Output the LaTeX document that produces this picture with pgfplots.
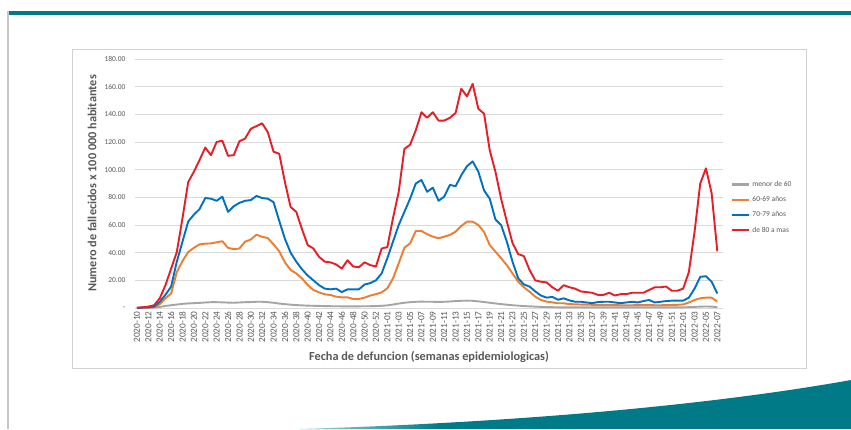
\documentclass[border=0pt]{standalone}
\usepackage{pgfplots}
\pgfplotsset{compat=1.18}
\usepackage{pgfplotstable}
\usepackage{fontspec}
\setmainfont{Carlito}
\usetikzlibrary{fadings}
\definecolor{cred}{RGB}{230,30,38}
\definecolor{cblue}{RGB}{0,112,192}
\definecolor{corange}{RGB}{237,125,49}
\definecolor{cgrey}{RGB}{165,165,165}
\definecolor{cteal}{RGB}{0,122,135}
\definecolor{ctxt}{RGB}{89,89,89}
\definecolor{cgrid}{RGB}{217,217,217}

\pgfplotstableread{
i g o b r
0 0 0 0 0.3
1 0 0.2 0.3 0.5
2 0.1 0.4 0.5 1
3 0.3 0.8 1 2
4 0.8 2.7 4.5 7
5 1.5 7 9.5 16.5
6 2 10.5 15.5 28.5
7 2.5 26 33.5 40.5
8 3 34 48 65
9 3.3 40.5 62.5 91
10 3.5 43.5 67.5 98.5
11 3.7 46 71.5 107
12 4 46.5 79.5 116
13 4.2 46.7 79 110.5
14 4.2 47.5 77.5 120
15 4.1 48.3 80.5 121
16 3.9 43.5 69.5 110
17 3.8 42.5 73.5 110.5
18 4 43 76 120.5
19 4.2 48 77.5 122.5
20 4.3 49.5 78 129.5
21 4.5 53 81 131.5
22 4.5 51.5 79.5 133.5
23 4.2 50.5 79 127
24 3.8 46 76.5 113
25 3.2 41 63 111.5
26 2.8 33 50 91
27 2.4 27.5 40 73
28 2.1 25 33.5 69.5
29 1.9 21.4 28 57
30 1.7 16.6 23.5 45.5
31 1.6 13 20 43
32 1.5 11.3 16.5 37
33 1.4 9.9 14 33.5
34 1.3 9.4 13.5 33
35 1.3 8.2 14 31.5
36 1.2 7.7 11.5 28.5
37 1.2 7.7 13.5 34.5
38 1.2 6.5 13.5 30
39 1.2 6.5 13.5 29.5
40 1.3 7.5 17 33
41 1.3 9 18 31
42 1.4 10 20 30
43 1.6 11.3 25 43
44 1.9 14.2 36 44
45 2.5 21.4 48 65
46 3.2 32.3 60 84
47 3.8 43.6 69.5 115
48 4.2 46.7 79 118
49 4.5 55.7 90 128.5
50 4.6 55.7 92.5 141.5
51 4.5 53.3 84 137.5
52 4.5 51.6 87 141.5
53 4.4 50.4 77.5 135.5
54 4.5 51.6 80.5 135.5
55 4.7 52.8 89 137.5
56 5 55.2 88 141
57 5.2 59.3 96 158.5
58 5.3 62.4 102.5 153
59 5.2 62.4 106 162
60 4.8 60 98.5 144
61 4.3 55 85 140.5
62 3.8 45.5 79 114
63 3.3 40.7 64 98.5
64 2.8 36 60 79
65 2.4 31 48 62.5
66 2 25 33.5 47
67 1.7 19 21.5 39
68 1.4 15 17 37.5
69 1.2 11.8 15.5 27.5
70 1 8.2 12 20
71 0.8 5.8 9 19
72 0.7 4.6 7.5 18.5
73 0.6 4.1 8 15
74 0.5 3.4 6 12.5
75 0.5 3.4 7 16.5
76 0.5 2.8 5.5 15
77 0.5 2.7 4.5 14
78 0.5 2.5 4.5 12
79 0.4 2.4 4 11.5
80 0.4 2.3 3.5 11
81 0.4 2.2 4.3 9.5
82 0.4 2.2 4.5 9.5
83 0.4 2.2 4.5 11
84 0.4 2.1 4 9
85 0.4 2 3.5 10
86 0.4 2 4 10
87 0.4 2 4.5 11
88 0.4 2.1 4 11
89 0.4 2.2 5 11
90 0.4 2.2 5.8 13
91 0.4 2 4 15
92 0.4 2 4.5 15
93 0.4 2.1 5 15.5
94 0.4 2.2 5.3 12.5
95 0.4 2.3 5.3 12.5
96 0.5 2.6 5.3 14
97 0.6 4 7.5 26
98 0.8 5.8 14 55
99 1 7 22.5 90
100 1.1 7.5 23 101
101 1 7.5 19 83
102 0.6 4.6 10.5 41
}\data

\begin{document}
\begin{tikzpicture}[x=1pt,y=1pt]
\path[use as bounding box, fill=white] (0,0) rectangle (851,429);
% slide decorations
\fill[cteal] (8,414) rectangle (851,418);
\fill[black!22] (7,0) rectangle (9,418);
\fill[cteal] (300,0) .. controls (500,6) and (700,22) .. (851,49) -- (851,0) -- cycle;
\fill[white, path fading=east] (230,0) rectangle (440,30);
% chart box
\draw[black!18, line width=0.8pt] (72,61) rectangle (806,380);
\begin{axis}[
  at={(135pt,121pt)}, anchor=south west,
  scale only axis, width=588pt, height=249pt,
  xmin=-0.35, xmax=103, ymin=0, ymax=180,
  axis line style={draw=none},
  major tick length=0pt,
  ymajorgrids, grid style={cgrid, line width=0.7pt},
  ytick={0,20,...,180},
  yticklabels={{-},{20.00},{40.00},{60.00},{80.00},{100.00},{120.00},{140.00},{160.00},{180.00}},
  yticklabel style={font=\fontsize{7.5}{8}\selectfont, text=ctxt, xshift=-6pt},
  xtick={0,2,...,102},
  xticklabels={2020-10,2020-12,2020-14,2020-16,2020-18,2020-20,2020-22,2020-24,2020-26,2020-28,2020-30,2020-32,2020-34,2020-36,2020-38,2020-40,2020-42,2020-44,2020-46,2020-48,2020-50,2020-52,2021-01,2021-03,2021-05,2021-07,2021-09,2021-11,2021-13,2021-15,2021-17,2021-19,2021-21,2021-23,2021-25,2021-27,2021-29,2021-31,2021-33,2021-35,2021-37,2021-39,2021-41,2021-43,2021-45,2021-47,2021-49,2021-51,2022-01,2022-03,2022-05,2022-07},
  xticklabel style={rotate=90, anchor=east, font=\fontsize{9.3}{10}\selectfont, text=ctxt},
  xlabel={Fecha de defuncion (semanas epidemiologicas)},
  xlabel style={at={(axis description cs:0.5,-0.195)}, anchor=center, font=\bfseries\fontsize{12.3}{14}\selectfont, text=ctxt},
  ylabel={Numero de fallecidos x 100 000 habitantes},
  ylabel style={at={(axis description cs:-0.0731,0.5)}, anchor=center, font=\bfseries\fontsize{12.3}{14}\selectfont, text=ctxt},
  legend style={at={(axis description cs:1.012,0.522)}, anchor=north west, draw=none, fill=none,
    font=\fontsize{7.5}{8}\selectfont, text=ctxt, row sep=4.6pt, inner sep=1pt},
  legend cell align=left,
  legend image code/.code={\draw[#1, line width=2.2pt] (0pt,0pt) -- (17pt,0pt);},
  every axis plot/.append style={line width=1.9pt, line join=round},
  clip=false,
]
\addplot[cgrey, no marks] table[x=i, y=g] {\data};
\addlegendentry{menor de 60}
\addplot[corange, no marks] table[x=i, y=o] {\data};
\addlegendentry{60-69 años}
\addplot[cblue, no marks] table[x=i, y=b] {\data};
\addlegendentry{70-79 años}
\addplot[cred, no marks] table[x=i, y=r] {\data};
\addlegendentry{de 80 a mas}
\end{axis}
\end{tikzpicture}
\end{document}
